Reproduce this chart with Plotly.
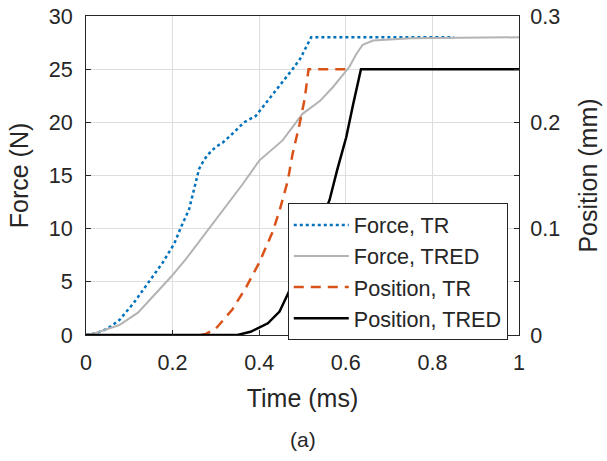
import plotly.graph_objects as go

# ---- data (time in ms) ----
t_force_tr = [0, 0.022, 0.05, 0.077, 0.11, 0.15, 0.177, 0.204, 0.22, 0.238, 0.25, 0.261,
              0.273, 0.285, 0.3, 0.316, 0.34, 0.365, 0.392, 0.423, 0.447, 0.477, 0.495,
              0.51, 0.52, 0.85]
force_tr = [0, 0.15, 0.6, 1.4, 3.0, 5.2, 6.8, 8.6, 10.2, 11.8, 13.8, 15.6,
            16.5, 17.1, 17.7, 18.1, 19.0, 20.0, 20.6, 22.2, 23.4, 25.0, 26.0,
            27.2, 28.0, 28.0]

t_force_tred = [0, 0.023, 0.077, 0.12, 0.154, 0.197, 0.23, 0.269, 0.316, 0.362, 0.40,
                0.454, 0.50, 0.54, 0.57, 0.608, 0.624, 0.639, 0.663, 0.75, 1.0]
force_tred = [0, 0.2, 0.94, 2.1, 3.6, 5.5, 7.1, 9.2, 11.7, 14.2, 16.4,
              18.3, 20.8, 22.0, 23.3, 25.2, 26.4, 27.3, 27.7, 27.9, 28.0]

t_pos_tr = [0.265, 0.277, 0.30, 0.338, 0.37, 0.40, 0.431, 0.447, 0.466, 0.477, 0.493,
            0.505, 0.514, 0.608]
pos_tr = [0, 0.001, 0.006, 0.024, 0.045, 0.068, 0.097, 0.117, 0.145, 0.170, 0.198,
          0.222, 0.25, 0.25]

t_pos_tred = [0, 0.35, 0.38, 0.40, 0.42, 0.447, 0.462, 0.48, 0.50, 0.52, 0.54, 0.5625,
              0.58, 0.601, 0.617, 0.635, 1.0]
pos_tred = [0, 0, 0.003, 0.007, 0.011, 0.022, 0.035, 0.05, 0.067, 0.085, 0.104, 0.127,
            0.155, 0.186, 0.217, 0.25, 0.25]

x_ticks = [0, 0.2, 0.4, 0.6, 0.8, 1]
x_tick_labels = ["0", "0.2", "0.4", "0.6", "0.8", "1"]
y_ticks = [0, 5, 10, 15, 20, 25, 30]
y2_ticks = [0, 0.05, 0.1, 0.15, 0.2, 0.25, 0.3]
y2_tick_labels = ["0", "", "0.1", "", "0.2", "", "0.3"]

FONT = "Liberation Sans, Arial, sans-serif"
AX = "#262626"
TICK = 21.6
TITLE = 25

fig = go.Figure()
fig.add_trace(go.Scatter(x=t_force_tr, y=force_tr, name="Force, TR", mode="lines",
                         line=dict(color="#0072BD", width=2.5, dash="3px,3px")))
fig.add_trace(go.Scatter(x=t_force_tred, y=force_tred, name="Force, TRED", mode="lines",
                         line=dict(color="#b3b3b3", width=2)))
fig.add_trace(go.Scatter(x=t_pos_tr, y=pos_tr, name="Position, TR", mode="lines", yaxis="y2",
                         line=dict(color="#D95319", width=2.5, dash="10px,7px")))
fig.add_trace(go.Scatter(x=t_pos_tred, y=pos_tred, name="Position, TRED", mode="lines", yaxis="y2",
                         line=dict(color="#000000", width=2.5)))

fig.update_layout(
    width=607, height=461,
    margin=dict(l=86, r=88, t=16, b=126, autoexpand=False),
    paper_bgcolor="white", plot_bgcolor="white",
    font=dict(family=FONT, size=TICK, color=AX),
    showlegend=True,
    legend=dict(x=0.466, y=0.4125, xanchor="left", yanchor="top",
                bgcolor="white", bordercolor=AX, borderwidth=1,
                font=dict(family=FONT, size=TICK, color=AX), itemwidth=55,
                tracegroupgap=0),
    xaxis=dict(range=[0, 1], tickvals=x_ticks, ticktext=x_tick_labels,
               showgrid=True, gridcolor="#dedede", gridwidth=1, zeroline=False,
               showline=True, linecolor=AX, linewidth=1, mirror=True, automargin=False,
               ticks="inside", ticklen=5, tickcolor=AX, ticklabelstandoff=8,
               title=dict(text="Time (ms)", font=dict(size=TITLE), standoff=15)),
    yaxis=dict(range=[0, 30], tickvals=y_ticks, automargin=False,
               showgrid=True, gridcolor="#dedede", gridwidth=1, zeroline=False,
               showline=True, linecolor=AX, linewidth=1,
               ticks="inside", ticklen=5, tickcolor=AX, ticklabelstandoff=8,
               title=dict(text="Force (N)", font=dict(size=TITLE), standoff=12)),
    yaxis2=dict(range=[0, 0.3], tickvals=y2_ticks, ticktext=y2_tick_labels, automargin=False,
                overlaying="y", side="right", showgrid=False, zeroline=False,
                showline=True, linecolor=AX, linewidth=1,
                ticks="inside", ticklen=5, tickcolor=AX, ticklabelstandoff=6,
                title=dict(text="Position (mm)", font=dict(size=TITLE), standoff=20)),
    annotations=[dict(text="(a)", x=0.5006, y=-0.328, xref="paper", yref="paper",
                      xanchor="center", yanchor="middle", showarrow=False,
                      font=dict(family=FONT, size=21, color=AX))],
)

fig.write_html("out.html", config={"displayModeBar": False},
               post_script="document.body.style.margin='0';document.body.style.padding='0';")
